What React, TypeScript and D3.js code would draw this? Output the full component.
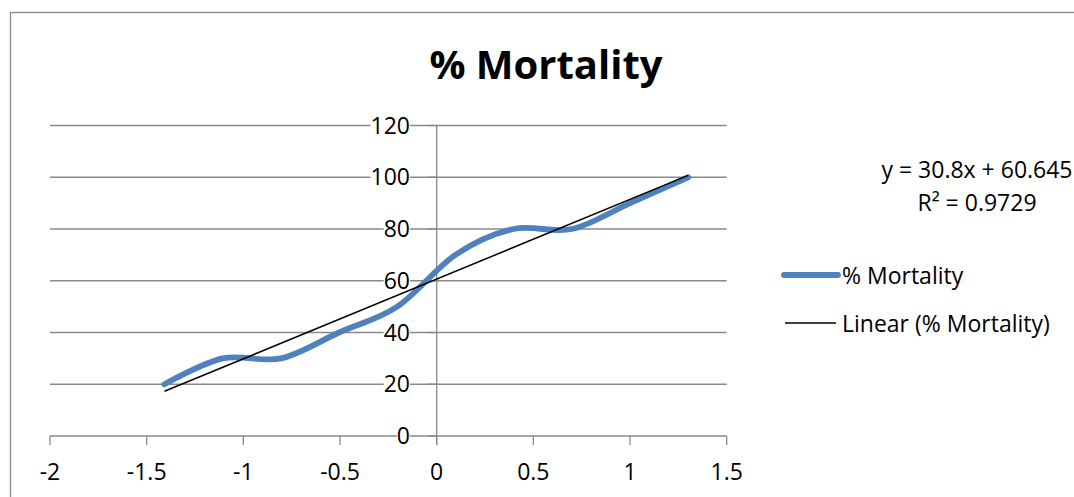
import React from "react";
import * as d3 from "d3";

const logDose: number[] = [-1.408, -1.107, -0.806, -0.505, -0.204, 0.097, 0.398, 0.699, 1.0, 1.301];
const mortality: number[] = [20, 30, 30, 40, 50, 70, 80, 80, 90, 100];
const xTicks: number[] = [-2, -1.5, -1, -0.5, 0, 0.5, 1, 1.5];
const yTicks: number[] = [0, 20, 40, 60, 80, 100, 120];
const title = "% Mortality";
const seriesName = "% Mortality";
const trendName = "Linear (% Mortality)";
const equationText = "y = 30.8x + 60.645";
const r2Text = "R² = 0.9729";

const W = 1074;
const H = 497;
const FONT = "'Open Sans', 'Noto Sans', sans-serif";
const GRID = "#898989";
const BLUE = "#4F81BD";

export default function App() {
  const x = d3.scaleLinear().domain([-2, 1.5]).range([50, 726.7]);
  const y = d3.scaleLinear().domain([0, 120]).range([436, 125.5]);

  const pts: [number, number][] = logDose.map((d, i) => [d, mortality[i]]);
  const line = d3
    .line<[number, number]>()
    .x((d) => x(d[0]))
    .y((d) => y(d[1]))
    .curve(d3.curveCardinal.tension(0));

  // least squares fit
  const mx = d3.mean(logDose) as number;
  const my = d3.mean(mortality) as number;
  let sxy = 0;
  let sxx = 0;
  logDose.forEach((v, i) => {
    sxy += (v - mx) * (mortality[i] - my);
    sxx += (v - mx) * (v - mx);
  });
  const slope = sxy / sxx;
  const intercept = my - slope * mx;
  const [x0, x1] = d3.extent(logDose) as [number, number];

  const fs = 23;
  const fmt = (v: number) => String(v);

  return (
    <svg
      width={W}
      height={H}
      style={{ position: "absolute", left: 0, top: 0, display: "block", background: "#fff" }}
      fontFamily={FONT}
    >
      <rect x={0} y={0} width={W} height={H} fill="#fff" />
      <rect x={10.5} y={12.5} width={W + 20} height={H + 20} fill="none" stroke={GRID} strokeWidth={1.3} />

      <text x={546} y={79} textAnchor="middle" fontSize={40} fontWeight="bold" fill="#000">
        {title}
      </text>

      {/* gridlines */}
      {yTicks
        .filter((t) => t !== 0)
        .map((t) => (
          <line key={"g" + t} x1={x(-2)} x2={x(1.5)} y1={y(t)} y2={y(t)} stroke={GRID} strokeWidth={1.3} />
        ))}

      {/* y axis at x=0 */}
      <line x1={x(0)} x2={x(0)} y1={y(120)} y2={y(0) + 9} stroke={GRID} strokeWidth={1.3} />
      {yTicks.map((t) => (
        <line key={"yt" + t} x1={x(0) - 9} x2={x(0)} y1={y(t)} y2={y(t)} stroke={GRID} strokeWidth={1.3} />
      ))}

      {/* x axis at y=0 */}
      <line x1={x(-2)} x2={x(1.5)} y1={y(0)} y2={y(0)} stroke={GRID} strokeWidth={1.3} />
      {xTicks.map((t) => (
        <line key={"xt" + t} x1={x(t)} x2={x(t)} y1={y(0)} y2={y(0) + 9} stroke={GRID} strokeWidth={1.3} />
      ))}
      {xTicks.map((t) => (
        <text key={"xl" + t} x={x(t)} y={480} textAnchor="middle" fontSize={fs} fill="#000">
          {fmt(t)}
        </text>
      ))}

      {/* y labels with white background */}
      {yTicks.map((t) => {
        const s = fmt(t);
        const w = s.length * 0.572 * fs;
        return (
          <g key={"yl" + t}>
            <rect x={410 - w} y={y(t) - 10} width={w} height={20} fill="#fff" />
            <text x={410} y={y(t) + 8.2} textAnchor="end" fontSize={fs} fill="#000">
              {s}
            </text>
          </g>
        );
      })}

      {/* series */}
      <path d={line(pts) || ""} fill="none" stroke={BLUE} strokeWidth={5.8} strokeLinecap="round" strokeLinejoin="round" />
      <line
        x1={x(x0)}
        x2={x(x1)}
        y1={y(slope * x0 + intercept)}
        y2={y(slope * x1 + intercept)}
        stroke="#000"
        strokeWidth={1.5}
      />

      {/* equation */}
      <text x={977} y={178} textAnchor="middle" fontSize={fs} fill="#000">
        {equationText}
      </text>
      <text x={977} y={211} textAnchor="middle" fontSize={fs} fill="#000">
        {r2Text}
      </text>

      {/* legend */}
      <line x1={784} x2={838} y1={275} y2={275} stroke={BLUE} strokeWidth={5.8} strokeLinecap="round" />
      <text x={842} y={283.5} fontSize={fs} fill="#000">
        {seriesName}
      </text>
      <line x1={785} x2={836} y1={323} y2={323} stroke="#000" strokeWidth={1.5} />
      <text x={842} y={331.5} fontSize={fs} fill="#000">
        {trendName}
      </text>
    </svg>
  );
}
